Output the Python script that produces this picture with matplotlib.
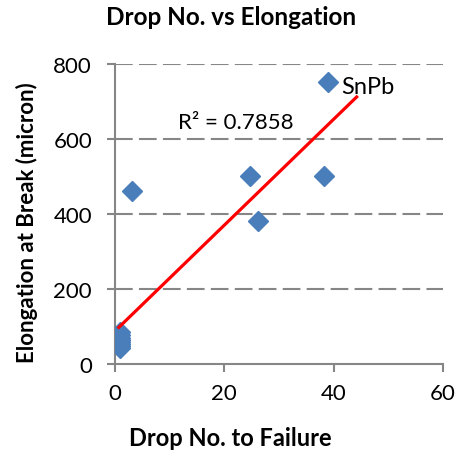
import numpy as np
import matplotlib
matplotlib.use('Agg')
import matplotlib.pyplot as plt

plt.rcParams['font.family'] = ['Lato', 'DejaVu Sans']

# data (cluster of overlapping points near x=1)
drop_no = [0.9, 0.9, 0.9, 0.9, 0.9, 0.9, 0.9, 0.9, 3.1, 24.7, 26.1, 38.2, 38.9]
elongation = [43, 48, 53, 58, 64, 70, 77, 85, 461, 501, 381, 501, 752]
xticks = [0, 20, 40, 60]
yticks = [0, 200, 400, 600, 800]
r2_text = 'R\u00b2 = 0.7858'
label_text = 'SnPb'

fig = plt.figure(figsize=(4.61, 4.52), dpi=100)
ax = fig.add_axes([0.2495, 0.1925, 0.7115, 0.6637])

# dashed gridlines
for y in yticks[1:]:
    ax.axhline(y, color='#868686', lw=1.5, ls=(0, (8.5, 3)), zorder=1)

ax.plot(drop_no, elongation, ls='none', marker='D', ms=10, color='#4a7ebb', mec='#4a7ebb', zorder=3)

# linear trend line, forecast 5 forward
slope, intercept = np.polyfit(drop_no, elongation, 1)
xs = np.array([min(drop_no) - 0.2, max(drop_no) + 5.3])
ax.plot(xs, slope * xs + intercept, color='#ff0000', lw=2.3, zorder=4)

ax.text(22.1, 645, r2_text, fontsize=16, ha='center', va='center')
ax.text(41.4, 739, label_text, fontsize=17, ha='left', va='center')

ax.set_xlim(0, 60)
ax.set_ylim(0, 800)
ax.set_xticks(xticks)
ax.set_yticks(yticks)
ax.tick_params(labelsize=16, color='#868686', length=5.5, width=1.5, direction='out')
ax.tick_params(axis='y', pad=11)
ax.tick_params(axis='x', pad=8)
for s in ['top', 'right']:
    ax.spines[s].set_visible(False)
for s in ['left', 'bottom']:
    ax.spines[s].set_color('#868686')
    ax.spines[s].set_linewidth(1.5)

fig.text(0.5, 0.029, 'Drop No. to Failure', fontsize=17, fontweight='bold', ha='center', va='center')
fig.text(0.058, 0.508, 'Elongation at Break (micron)', fontsize=16, fontweight='bold',
         ha='center', va='center', rotation=90)
fig.text(0.501, 0.962, 'Drop No. vs Elongation', fontsize=17.5, fontweight='bold', ha='center', va='center')

fig.savefig('out.png', dpi=100)
